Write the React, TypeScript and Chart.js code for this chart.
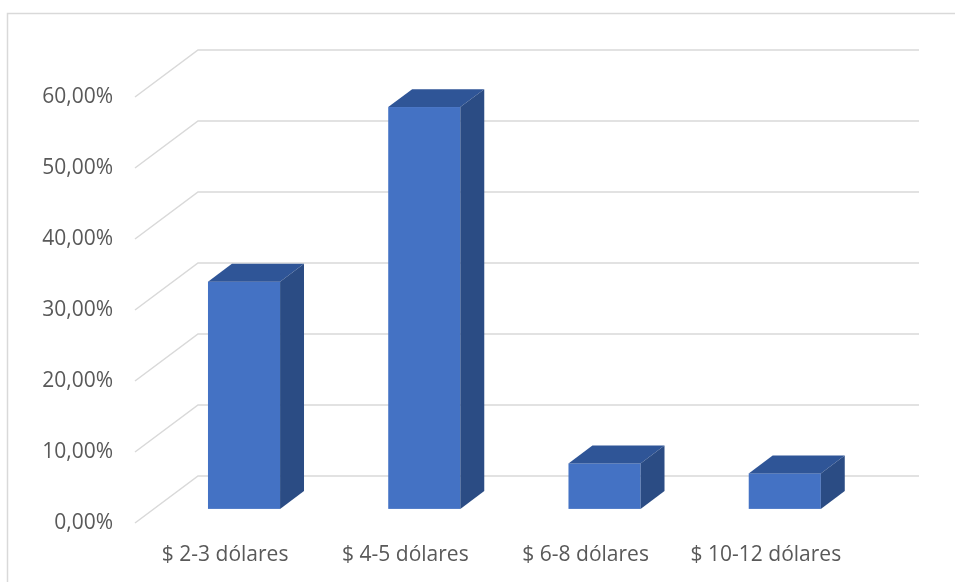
import React, { useEffect, useRef } from 'react';
import { Chart, registerables } from 'chart.js';

Chart.register(...registerables);

// Price ranges and the share of answers for each one (percent)
const categories = ['$ 2-3 dólares', '$ 4-5 dólares', '$ 6-8 dólares', '$ 10-12 dólares'];
const shares = [32.0, 56.6, 6.4, 5.0];

// Value axis range
const axisMin = 0;
const axisMax = 60;
const axisStep = 10;

// Oblique projection of the depth axis (px from front plane to back wall)
const DEPTH_X = 63;
const DEPTH_Y = 47;
// Where the bar block sits along the depth axis (0 = front, 1 = back wall)
const BAR_FRONT = 0.3;
const BAR_BACK = 0.68;

const GRID_COLOR = '#d9d9d9';
const TEXT_COLOR = '#595959';
const FACE_FRONT = '#4472C4';
const FACE_TOP = '#2F5597';
const FACE_SIDE = '#2B4C84';

const labelFont = { family: '"Open Sans", "Noto Sans", sans-serif', size: 21 };

const formatPercent = (v: number) => v.toFixed(2).replace('.', ',') + '%';

const box3dPlugin = {
  id: 'box3d',
  beforeDraw(chart: any) {
    const { ctx, width, height } = chart;
    ctx.save();
    ctx.fillStyle = '#ffffff';
    ctx.fillRect(0, 0, width, height);
    ctx.strokeStyle = GRID_COLOR;
    ctx.lineWidth = 1.5;
    ctx.beginPath();
    ctx.moveTo(7.5, height + 2);
    ctx.lineTo(7.5, 13.5);
    ctx.lineTo(width + 2, 13.5);
    ctx.stroke();
    ctx.restore();
  },
  beforeDatasetsDraw(chart: any) {
    const { ctx, chartArea } = chart;
    const yScale = chart.scales.y;
    ctx.save();
    ctx.strokeStyle = GRID_COLOR;
    ctx.lineWidth = 1.5;
    yScale.ticks.forEach((t: any) => {
      const y = yScale.getPixelForValue(t.value);
      ctx.beginPath();
      ctx.moveTo(chartArea.left, y);
      ctx.lineTo(chartArea.left + DEPTH_X, y - DEPTH_Y);
      ctx.lineTo(chartArea.right + DEPTH_X, y - DEPTH_Y);
      ctx.stroke();
    });
    ctx.restore();
  },
  afterDatasetsDraw(chart: any) {
    const { ctx } = chart;
    const meta = chart.getDatasetMeta(0);
    const fx = DEPTH_X * BAR_FRONT;
    const fy = DEPTH_Y * BAR_FRONT;
    const bx = DEPTH_X * (BAR_BACK - BAR_FRONT);
    const by = DEPTH_Y * (BAR_BACK - BAR_FRONT);
    ctx.save();
    meta.data.forEach((el: any) => {
      const { x, y, base, width } = el.getProps(['x', 'y', 'base', 'width'], true);
      const left = x - width / 2 + fx;
      const right = x + width / 2 + fx;
      const top = y - fy;
      const bottom = base - fy;

      ctx.fillStyle = FACE_FRONT;
      ctx.fillRect(left, top, right - left, bottom - top);

      ctx.fillStyle = FACE_TOP;
      ctx.beginPath();
      ctx.moveTo(left, top);
      ctx.lineTo(left + bx, top - by);
      ctx.lineTo(right + bx, top - by);
      ctx.lineTo(right, top);
      ctx.closePath();
      ctx.fill();

      ctx.fillStyle = FACE_SIDE;
      ctx.beginPath();
      ctx.moveTo(right, top);
      ctx.lineTo(right + bx, top - by);
      ctx.lineTo(right + bx, bottom - by);
      ctx.lineTo(right, bottom);
      ctx.closePath();
      ctx.fill();
    });
    ctx.restore();
  },
};

export default function App() {
  const canvasRef = useRef<HTMLCanvasElement | null>(null);

  useEffect(() => {
    if (!canvasRef.current) return;
    const chart = new Chart(canvasRef.current, {
      type: 'bar',
      data: {
        labels: categories,
        datasets: [
          {
            data: shares,
            backgroundColor: 'rgba(0,0,0,0)',
            borderWidth: 0,
            barPercentage: 0.4,
            categoryPercentage: 1,
          },
        ],
      },
      options: {
        animation: false,
        responsive: true,
        maintainAspectRatio: false,
        layout: { padding: { left: 0, top: 97, right: 99, bottom: 9 } },
        plugins: {
          legend: { display: false },
          tooltip: { enabled: false },
        },
        scales: {
          x: {
            grid: { display: false, drawTicks: false },
            border: { display: false },
            ticks: { font: labelFont, color: TEXT_COLOR, padding: 19, maxRotation: 0, autoSkip: false },
            afterFit: (s: any) => {
              s.height = 50;
            },
          },
          y: {
            min: axisMin,
            max: axisMax,
            grid: { display: false, drawTicks: false },
            border: { display: false },
            ticks: {
              stepSize: axisStep,
              font: labelFont,
              color: TEXT_COLOR,
              padding: 22,
              callback: (v: any) => formatPercent(Number(v)),
            },
            afterFit: (s: any) => {
              s.width = 135;
            },
          },
        },
      },
      plugins: [box3dPlugin],
    });
    return () => chart.destroy();
  }, []);

  return (
    <div style={{ position: 'absolute', left: 0, top: 0, width: 955, height: 582 }}>
      <canvas ref={canvasRef} />
    </div>
  );
}
